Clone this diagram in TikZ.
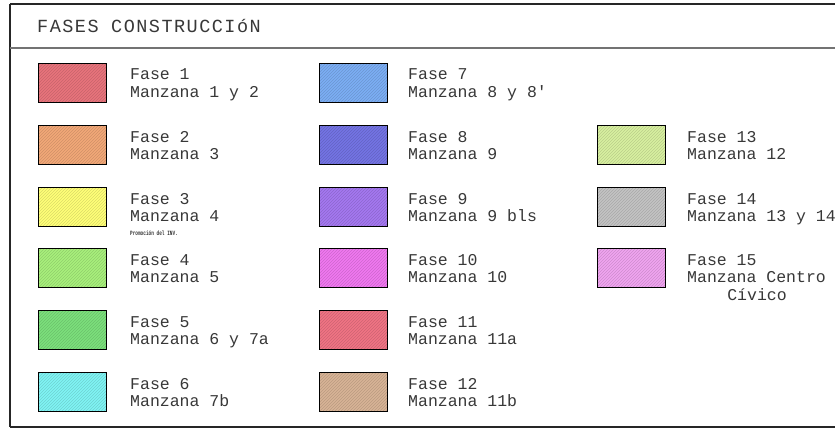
\documentclass[tikz,border=0pt]{standalone}
\usepackage{fontspec}
\usetikzlibrary{patterns}
\newfontfamily\cadfont{Liberation Mono}
\newcommand\lblfont{\cadfont\fontsize{16.5}{17}\selectfont}
\newcommand\titlefont{\cadfont\addfontfeature{LetterSpace=8}\fontsize{18.5}{20}\selectfont}
\definecolor{c1}{HTML}{E8747C}
\definecolor{c2}{HTML}{F2A878}
\definecolor{c3}{HTML}{FFFF78}
\definecolor{c4}{HTML}{A8F07C}
\definecolor{c5}{HTML}{7CE07C}
\definecolor{c6}{HTML}{80F4F4}
\definecolor{c7}{HTML}{7CAEF4}
\definecolor{c8}{HTML}{7474E4}
\definecolor{c9}{HTML}{A478F0}
\definecolor{c10}{HTML}{F078F0}
\definecolor{c11}{HTML}{F07484}
\definecolor{c12}{HTML}{D8B496}
\definecolor{c13}{HTML}{D8F0A0}
\definecolor{c14}{HTML}{C4C4C4}
\definecolor{c15}{HTML}{F0A4F0}
\definecolor{txt}{HTML}{383838}
\tikzset{
  swatchbox/.style={draw=black, line width=1.2pt, minimum width=68pt,
    minimum height=39pt, anchor=north west, inner sep=0pt,
    preaction={fill=#1}, pattern=north east lines, pattern color=#1!86!black},
  lbl/.style={anchor=base west, inner sep=0pt, font=\lblfont, text=txt},
  frameline/.style={line width=1.4pt, draw=black!85},
}
\begin{document}
\begin{tikzpicture}[x=1pt,y=-1pt]
\useasboundingbox (0,0) rectangle (835,428);
\fill[white] (0,0) rectangle (835,428);
% frame
\draw[frameline] (10,4) -- (845,4);
\draw[frameline] (10,4) -- (10,427);
\draw[frameline] (10,427) -- (845,427);
\draw[line width=1.8pt, draw=black!55] (10,48) -- (845,48);
\node[anchor=base west, inner sep=0pt, font=\titlefont, text=txt] (title) at (37,33) {FASES CONSTRUCCIóN};
% column 1
\node[swatchbox=c1] (s1) at (38,63) {};
\node[lbl] (f1) at (130,80) {Fase 1};
\node[lbl] (m1) at (130,97) {Manzana 1 y 2};
\node[swatchbox=c2] (s2) at (38,125) {};
\node[lbl] (f2) at (130,142) {Fase 2};
\node[lbl] (m2) at (130,159) {Manzana 3};
\node[swatchbox=c3] (s3) at (38,187) {};
\node[lbl] (f3) at (130,204) {Fase 3};
\node[lbl] (m3) at (130,221) {Manzana 4};
\node[anchor=base west, inner sep=0pt, font=\cadfont\bfseries\fontsize{6.5}{7}\selectfont, text=txt, xscale=0.68] (p3) at (130,235) {Promoción del INV.};
\node[swatchbox=c4] (s4) at (38,248) {};
\node[lbl] (f4) at (130,265) {Fase 4};
\node[lbl] (m4) at (130,282) {Manzana 5};
\node[swatchbox=c5] (s5) at (38,310) {};
\node[lbl] (f5) at (130,327) {Fase 5};
\node[lbl] (m5) at (130,344) {Manzana 6 y 7a};
\node[swatchbox=c6] (s6) at (38,372) {};
\node[lbl] (f6) at (130,389) {Fase 6};
\node[lbl] (m6) at (130,406) {Manzana 7b};
% column 2
\node[swatchbox=c7] (s7) at (319,63) {};
\node[lbl] (f7) at (408,80) {Fase 7};
\node[lbl] (m7) at (408,97) {Manzana 8 y 8'};
\node[swatchbox=c8] (s8) at (319,125) {};
\node[lbl] (f8) at (408,142) {Fase 8};
\node[lbl] (m8) at (408,159) {Manzana 9};
\node[swatchbox=c9] (s9) at (319,187) {};
\node[lbl] (f9) at (408,204) {Fase 9};
\node[lbl] (m9) at (408,221) {Manzana 9 bls};
\node[swatchbox=c10] (s10) at (319,248) {};
\node[lbl] (f10) at (408,265) {Fase 10};
\node[lbl] (m10) at (408,282) {Manzana 10};
\node[swatchbox=c11] (s11) at (319,310) {};
\node[lbl] (f11) at (408,327) {Fase 11};
\node[lbl] (m11) at (408,344) {Manzana 11a};
\node[swatchbox=c12] (s12) at (319,372) {};
\node[lbl] (f12) at (408,389) {Fase 12};
\node[lbl] (m12) at (408,406) {Manzana 11b};
% column 3
\node[swatchbox=c13] (s13) at (597,125) {};
\node[lbl] (f13) at (687,142) {Fase 13};
\node[lbl] (m13) at (687,159) {Manzana 12};
\node[swatchbox=c14] (s14) at (597,187) {};
\node[lbl] (f14) at (687,204) {Fase 14};
\node[lbl] (m14) at (687,221) {Manzana 13 y 14};
\node[swatchbox=c15] (s15) at (597,248) {};
\node[lbl] (f15) at (687,265) {Fase 15};
\node[lbl] (m15) at (687,282) {Manzana Centro};
\node[lbl, anchor=base] (v15) at (757,300) {Cívico};
\end{tikzpicture}
\end{document}
